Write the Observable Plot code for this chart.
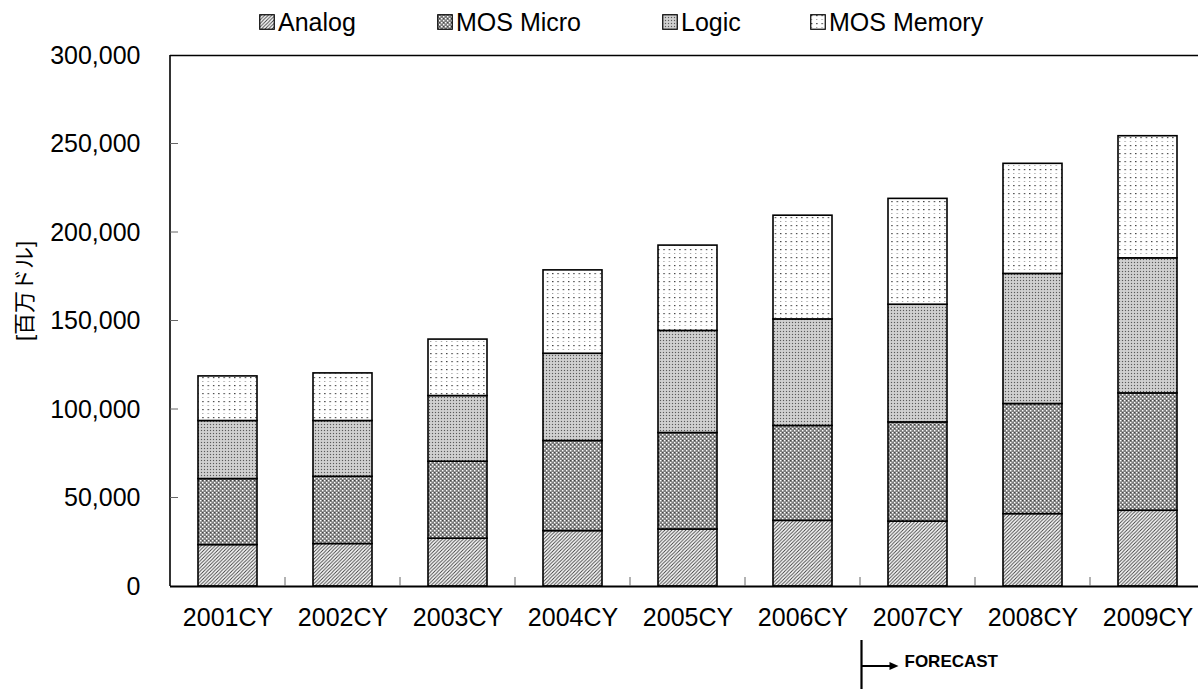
<!DOCTYPE html>
<html>
<head>
<meta charset="utf-8">
<script src="https://cdn.jsdelivr.net/npm/d3@7"></script>
<script src="https://cdn.jsdelivr.net/npm/@observablehq/plot@0.6"></script>
<style>
html, body { margin: 0; padding: 0; background: #fff; }
body { width: 1198px; height: 689px; overflow: hidden; position: relative; font-family: "Liberation Sans", Arial, sans-serif; }
#legend { position: absolute; left: 0; top: 0; width: 1198px; height: 40px; }
.item { position: absolute; top: 8px; display: flex; align-items: center; font-size: 25px; color: #000; line-height: 28px; white-space: nowrap; }
.item svg { margin-right: 3px; }
#chart { position: absolute; left: 0; top: 40px; }
</style>
</head>
<body>
<div id="legend"></div>
<div id="chart"></div>
<script>
// ---- data (百万ドル) ----
const years     = ["2001CY","2002CY","2003CY","2004CY","2005CY","2006CY","2007CY","2008CY","2009CY"];
const analog    = [23400, 24000, 27000, 31300, 32200, 37100, 36700, 40900, 42800];
const mosMicro  = [37300, 38000, 43500, 50900, 54500, 53600, 56000, 62200, 66300];
const logic     = [32800, 31500, 37100, 49300, 57700, 60200, 66500, 73500, 76300];
const mosMemory = [25200, 26900, 31900, 47100, 48200, 58600, 59800, 62200, 69000];
const seriesNames = ["Analog", "MOS Micro", "Logic", "MOS Memory"];
const yTicks = [0, 50000, 100000, 150000, 200000, 250000, 300000];
const yLabel = "[百万ドル]";
const forecastLabel = "FORECAST";
const forecastStart = "2007CY";

// ---- layout / style ----
const patternIds = ["pAnalog", "pMicro", "pLogic", "pMemory"];
const legendLeft = [259, 437, 662, 810];

const seriesValues = [analog, mosMicro, logic, mosMemory];
const table = [];
years.forEach((yr, i) => seriesNames.forEach((s, j) => table.push({year: yr, series: s, value: seriesValues[j][i]})));

const defs = `
<pattern id="pAnalog" width="3.5" height="3.5" patternUnits="userSpaceOnUse">
  <rect width="3.5" height="3.5" fill="#fff"/>
  <path d="M-1,1 l2,-2 M0,3.5 l3.5,-3.5 M2.5,4.5 l2,-2" stroke="#3a3a3a" stroke-width="0.9"/>
</pattern>
<pattern id="pMicro" width="4" height="4" patternUnits="userSpaceOnUse">
  <rect width="4" height="4" fill="#808080"/>
  <rect x="0" y="0" width="1.4" height="1.4" fill="#fff"/>
  <rect x="2" y="2" width="1.4" height="1.4" fill="#fff"/>
  <rect x="2" y="0" width="1" height="1" fill="#444"/>
</pattern>
<pattern id="pLogic" width="3" height="3" patternUnits="userSpaceOnUse">
  <rect width="3" height="3" fill="#c6c6c6"/>
  <rect x="0" y="0" width="1" height="1" fill="#5a5a5a"/>
  <rect x="1.5" y="1.5" width="1" height="1" fill="#f0f0f0"/>
</pattern>
<pattern id="pMemory" width="5.3" height="8" patternUnits="userSpaceOnUse">
  <rect width="5.3" height="8" fill="#fff"/>
  <rect x="1" y="1" width="1.2" height="1.2" fill="#222"/>
  <rect x="1" y="5" width="1" height="1" fill="#888"/>
</pattern>`;

const chart = Plot.plot({
  width: 1198,
  height: 649,
  marginLeft: 170,
  marginRight: 0,
  marginTop: 15,
  marginBottom: 103,
  style: {fontFamily: "Liberation Sans, Arial, sans-serif", fontSize: "25px", color: "#000", background: "#fff", overflow: "visible"},
  x: {type: "band", domain: years, range: [170, 1205], paddingInner: 0.49, paddingOuter: 0.245, label: null},
  y: {domain: [0, 300000], label: null},
  color: {domain: seriesNames, range: patternIds.map(id => `url(#${id})`)},
  marks: [
    Plot.barY(table, Plot.stackY({x: "year", y: "value", fill: "series", stroke: "#000", strokeWidth: 1.6})),
    Plot.ruleY([300000], {stroke: "#000", strokeWidth: 1.6}),
    Plot.ruleY([0], {stroke: "#000", strokeWidth: 2}),
    Plot.axisY(yTicks, {tickSize: 0, tickPadding: 30, tickFormat: d3.format(","), fontSize: 25}),
    Plot.axisX({tickSize: 0, tickPadding: 22, fontSize: 25})
  ]
});

const svg = d3.select(chart);
svg.insert("defs", ":first-child").html(defs);
const xs = chart.scale("x"), ys = chart.scale("y");
const x0 = xs.range[0];
const step = xs.step ?? (xs.range[1] - xs.range[0]) / (years.length - xs.paddingInner + 2 * xs.paddingOuter);
const bw = xs.bandwidth;
const boundary = yr => xs.apply(yr) + bw / 2 - step / 2;
const g = svg.append("g").attr("stroke", "#000").attr("fill", "none");
// left axis line
g.append("line").attr("x1", x0).attr("x2", x0).attr("y1", ys.apply(0)).attr("y2", ys.apply(300000)).attr("stroke-width", 1.6);
// y ticks (inward)
yTicks.slice(1, -1).forEach(v => g.append("line").attr("x1", x0).attr("x2", x0 + 8).attr("y1", ys.apply(v)).attr("y2", ys.apply(v)).attr("stroke", "#666").attr("stroke-width", 1));
// x ticks between categories (inward)
years.slice(1).forEach(yr => { const bx = boundary(yr); g.append("line").attr("x1", bx).attr("x2", bx).attr("y1", ys.apply(0)).attr("y2", ys.apply(0) - 9).attr("stroke", "#666").attr("stroke-width", 1); });
// y label
svg.append("text").attr("transform", `translate(24,${ys.apply(0) - 295}) rotate(-90)`).attr("text-anchor", "middle").attr("dominant-baseline", "central")
  .attr("font-family", "Liberation Sans, Noto Sans CJK JP, sans-serif").attr("font-size", 22).attr("fill", "#000").text(yLabel);
// forecast annotation
const fx = boundary(forecastStart) + 1.5;
const base = ys.apply(0);
const ay = base + 80;
const fa = svg.append("g");
fa.append("line").attr("x1", fx).attr("x2", fx).attr("y1", base + 54).attr("y2", base + 104).attr("stroke", "#000").attr("stroke-width", 2.2);
fa.append("line").attr("x1", fx).attr("x2", fx + 30).attr("y1", ay).attr("y2", ay).attr("stroke", "#000").attr("stroke-width", 2);
fa.append("path").attr("d", `M${fx + 37},${ay} L${fx + 28},${ay - 4} L${fx + 28},${ay + 4} Z`).attr("fill", "#000");
fa.append("text").attr("x", fx + 43).attr("y", ay + 1).attr("text-anchor", "start").attr("font-size", 17).attr("font-weight", "bold").attr("fill", "#000").text(forecastLabel);

document.getElementById("chart").appendChild(chart);

// legend
const legend = document.getElementById("legend");
seriesNames.forEach((s, i) => {
  const div = document.createElement("div");
  div.className = "item";
  div.style.left = legendLeft[i] + "px";
  div.innerHTML = `<svg width="16" height="16"><rect x="0.75" y="0.75" width="14.5" height="14.5" fill="url(#${patternIds[i]})" stroke="#000" stroke-width="1.2"/></svg><span>${s}</span>`;
  legend.appendChild(div);
});
</script>
</body>
</html>
